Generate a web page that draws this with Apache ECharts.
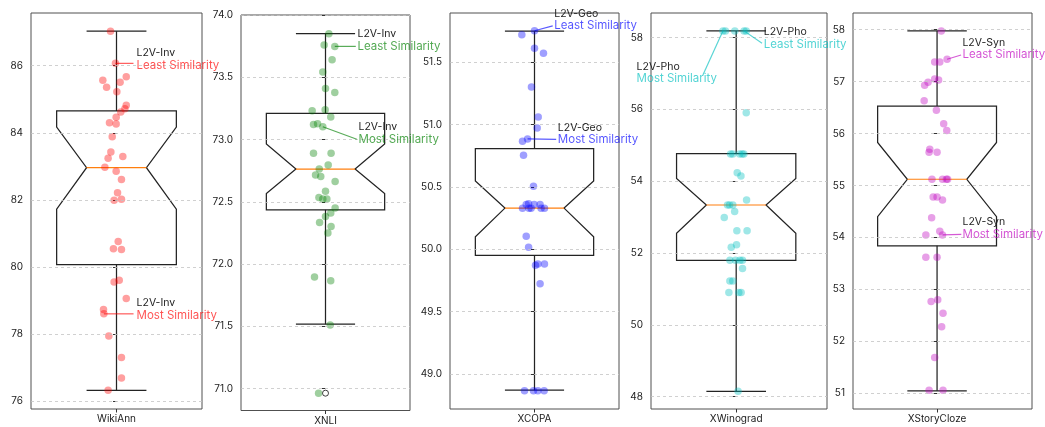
<!DOCTYPE html>
<html>
<head>
<meta charset="utf-8">
<script src="https://cdn.jsdelivr.net/npm/echarts@6/dist/echarts.min.js"></script>
<style>
  html, body { margin: 0; padding: 0; background: #fff; }
  #chart { width: 1045px; height: 427px; }
</style>
</head>
<body>
<div id="chart"></div>
<script>
// ---------------- data ----------------
const taskNames = ['WikiAnn', 'XNLI', 'XCOPA', 'XWinograd', 'XStoryCloze'];

// per-language scores, with the horizontal jitter each dot is drawn at
const wikiannScores = [87.03, 86.07, 85.67, 85.57, 85.51, 85.36, 85.22, 84.82, 84.72, 84.62, 84.46, 84.30,
  84.26, 83.88, 83.43, 83.29, 83.24, 82.97, 82.85, 82.61, 82.21, 82.02, 81.99, 80.76, 80.54, 80.52,
  79.60, 79.55, 79.06, 78.73, 78.60, 77.94, 77.30, 76.69, 76.32];
const wikiannJitter = [-0.035, -0.006, 0.057, -0.08, 0.021, -0.058, 0.002, 0.057, 0.049, 0.025, -0.002, -0.041,
  -0.002, -0.025, -0.033, 0.037, -0.049, -0.068, -0.002, 0.029, 0.006, 0.029, -0.014, 0.01, -0.018, 0.029,
  0.016, -0.014, 0.057, -0.076, -0.074, -0.045, 0.029, 0.029, -0.049];

const xnliScores = [73.85, 73.759, 73.748, 73.641, 73.542, 73.41, 73.378, 73.239, 73.231, 73.181, 73.127, 73.121,
  73.103, 72.89, 72.89, 72.795, 72.763, 72.715, 72.704, 72.664, 72.586, 72.535, 72.522, 72.522, 72.45, 72.41,
  72.382, 72.334, 72.302, 72.249, 71.896, 71.866, 71.512, 70.964];
const xnliJitter = [0.02, -0.008, 0.055, 0.039, -0.016, 0, 0.055, -0.002, -0.079, 0.031, -0.047, -0.071,
  -0.016, -0.071, 0.033, 0.016, -0.037, -0.059, -0.028, 0.057, 0, -0.039, -0.016, 0.008, 0.057, 0.031,
  0, -0.035, 0.033, 0.014, -0.065, 0.031, 0.028, -0.041];

const xcopaScores = [51.753, 51.721, 51.612, 51.572, 51.302, 51.061, 50.973, 50.885, 50.866, 50.754, 50.505,
  50.365, 50.36, 50.36, 50.36, 50.33, 50.33, 50.33, 50.33, 50.33, 50.104, 50.016, 49.882, 49.882, 49.872,
  49.724, 48.866, 48.866, 48.866, 48.866];
const xcopaJitter = [0, -0.075, 0, 0.053, -0.018, 0.022, 0.016, -0.041, -0.071, -0.065, -0.006,
  -0.035, -0.049, -0.002, 0.033, -0.071, -0.033, -0.02, 0.039, 0.059, -0.049, -0.035, 0.02, 0.059, 0.006,
  0.033, -0.059, -0.006, 0.02, 0.057];

const xwinogradScores = [58.19, 58.19, 58.19, 58.19, 58.19, 55.91, 54.76, 54.76, 54.76, 54.76, 54.76, 54.24,
  54.15, 53.48, 53.34, 53.34, 53.34, 53.16, 52.99, 52.62, 52.62, 52.23, 52.16, 51.80, 51.80, 51.80, 51.80,
  51.57, 51.22, 51.22, 50.90, 50.90, 50.90, 48.15];
const xwinogradJitter = [-0.078, -0.063, -0.008, 0.046, 0.059, 0.059, -0.033, -0.02, 0.02, 0.035, 0.045, 0.006,
  0.028, 0.061, -0.051, -0.039, -0.02, -0.009, -0.07, 0.004, 0.064, 0.002, -0.029, -0.037, -0.004, 0.022, 0.037,
  0.037, -0.037, -0.02, -0.043, 0.015, 0.029, 0.011];

const xstoryclozeScores = [57.975, 57.43, 57.38, 57.38, 57.05, 57.03, 56.99, 56.93, 56.63, 56.45, 56.19, 56.06,
  55.70, 55.64, 55.64, 55.12, 55.12, 55.12, 55.12, 54.78, 54.78, 54.72, 54.38, 54.12, 54.05, 54.05, 53.62,
  53.62, 52.80, 52.77, 52.54, 52.28, 51.69, 51.06, 51.06];
const xstoryclozeJitter = [0.025, 0.059, -0.014, 0.016, -0.014, 0.009, -0.053, -0.073, -0.076, -0.004, 0.039, 0.057,
  -0.043, -0.047, 0, -0.03, 0.032, 0.055, 0.062, -0.023, 0, 0.032, -0.032, 0.016, 0.032, -0.066, -0.066,
  0, 0.004, -0.035, 0.035, 0.027, -0.014, -0.047, 0.035];

// notched box statistics: [q1, notchLow, median, notchHigh, q3, whiskerLow, whiskerHigh]
const wikiannBox = [80.07, 81.72, 82.96, 84.17, 84.65, 76.32, 87.03];
const xnliBox = [72.436, 72.567, 72.763, 72.964, 73.21, 71.518, 73.85];
const xcopaBox = [49.952, 50.10, 50.33, 50.547, 50.807, 48.87, 51.75];
const xwinogradBox = [51.80, 52.55, 53.34, 54.08, 54.77, 48.15, 58.19];
const xstoryclozeBox = [53.84, 54.40, 55.12, 55.83, 56.53, 51.05, 57.975];

// points beyond the whiskers
const wikiannFliers = [];
const xnliFliers = [70.964];
const xcopaFliers = [];
const xwinogradFliers = [];
const xstoryclozeFliers = [];

// y-axis tick labels
const wikiannTicks = [76, 78, 80, 82, 84, 86];
const xnliTicks = [71.0, 71.5, 72.0, 72.5, 73.0, 73.5, 74.0];
const xcopaTicks = [49.0, 49.5, 50.0, 50.5, 51.0, 51.5];
const xwinogradTicks = [48, 50, 52, 54, 56, 58];
const xstoryclozeTicks = [51, 52, 53, 54, 55, 56, 57, 58];

// callouts: model name, which end it marks, index of the dot it points at
const wikiannNotes = [['L2V-Inv', 'Least Similarity', 1], ['L2V-Inv', 'Most Similarity', 30]];
const xnliNotes = [['L2V-Inv', 'Least Similarity', 2], ['L2V-Inv', 'Most Similarity', 12]];
const xcopaNotes = [['L2V-Geo', 'Least Similarity', 0], ['L2V-Geo', 'Most Similarity', 7]];
const xwinogradNotes = [['L2V-Pho', 'Least Similarity', 3], ['L2V-Pho', 'Most Similarity', 0]];
const xstoryclozeNotes = [['L2V-Syn', 'Least Similarity', 1], ['L2V-Syn', 'Most Similarity', 24]];

// ---------------- layout & style ----------------
const FONT = 'Inter, "Liberation Sans", sans-serif';
const panels = [
  { scores: wikiannScores, jitter: wikiannJitter, box: wikiannBox, fliers: wikiannFliers, ticks: wikiannTicks, notes: wikiannNotes,
    grid: [31, 13, 171, 396], xRange: [-0.5, 0.5], range: [75.762, 87.572], dec: 0, color: [255, 0, 0],
    // pixel offsets from the dot: [lineEndX, lineEndY, textX, textY]
    callouts: [[18, 0, 21, 2], [29.7, 0, 32.7, 2]] },
  { scores: xnliScores, jitter: xnliJitter, box: xnliBox, fliers: xnliFliers, ticks: xnliTicks, notes: xnliNotes,
    grid: [241, 15, 169, 395.5], xRange: [-0.5, 0.5], range: [70.825, 74.0], dec: 1, color: [0, 128, 0],
    callouts: [[21, 0, 22.7, 0], [34, 12.5, 35.7, 13]] },
  { scores: xcopaScores, jitter: xcopaJitter, box: xcopaBox, fliers: xcopaFliers, ticks: xcopaTicks, notes: xcopaNotes,
    grid: [450, 13, 169, 396], xRange: [-0.5, 0.5], range: [48.719, 51.895], dec: 1, color: [0, 0, 255],
    callouts: [[18.2, -4.8, 19.7, -4.8], [28.6, 0.5, 30.3, 1]] },
  { scores: xwinogradScores, jitter: xwinogradJitter, box: xwinogradBox, fliers: xwinogradFliers, ticks: xwinogradTicks, notes: xwinogradNotes,
    grid: [651, 13, 176, 396], xRange: [-0.5, 0.533], range: [47.657, 58.688], dec: 0, color: [0, 191, 191],
    callouts: [[18, 12.3, 19.7, 13.3], [-20, 44, -86.3, 48]] },
  { scores: xstoryclozeScores, jitter: xstoryclozeJitter, box: xstoryclozeBox, fliers: xstoryclozeFliers, ticks: xstoryclozeTicks, notes: xstoryclozeNotes,
    grid: [853, 13, 179, 396], xRange: [-0.495, 0.559], range: [50.699, 58.321], dec: 0, color: [191, 0, 191],
    callouts: [[14, -4.3, 15.3, -4.3], [18.8, -0.6, 20, -0.6]] }
];

const BOX_HALF = 0.35;   // half box width (x units)
const NOTCH_HALF = 0.175; // half width at the notch waist, also the caps
const rgba = (c, a) => `rgba(${c[0]},${c[1]},${c[2]},${a})`;

const grids = [], xAxes = [], yAxes = [], series = [];

panels.forEach((p, i) => {
  grids.push({
    left: p.grid[0], top: p.grid[1], width: p.grid[2], height: p.grid[3],
    show: true, borderColor: '#505050', borderWidth: 1, backgroundColor: 'transparent'
  });
  xAxes.push({
    type: 'value', gridIndex: i, min: p.xRange[0], max: p.xRange[1],
    axisLine: { show: false }, splitLine: { show: false },
    axisTick: { show: true, customValues: [0], length: 3.5, lineStyle: { color: '#333', width: 1 } },
    axisLabel: { customValues: [0], formatter: () => taskNames[i], margin: 5, fontSize: 10, color: '#222', fontFamily: FONT }
  });
  yAxes.push({
    type: 'value', gridIndex: i, min: p.range[0], max: p.range[1],
    axisLine: { show: false }, splitLine: { show: false },
    axisTick: { show: true, customValues: p.ticks, length: 3.5, lineStyle: { color: '#333', width: 1 } },
    axisLabel: { customValues: p.ticks, formatter: v => Number(v).toFixed(p.dec), margin: 8, fontSize: 10, color: '#222', fontFamily: FONT }
  });

  // notched box, whiskers, caps and median; gridlines ride along as markLine
  const b = p.box;
  series.push({
    type: 'custom', xAxisIndex: i, yAxisIndex: i, z: 2, clip: false, silent: true, animation: false,
    data: [[0, b[2]]],
    renderItem: (params, api) => {
      const c = (x, y) => api.coord([x, y]);
      const [q1, nLo, med, nHi, q3, wLo, wHi] = b;
      const outline = [
        c(-BOX_HALF, q1), c(BOX_HALF, q1), c(BOX_HALF, nLo), c(NOTCH_HALF, med), c(BOX_HALF, nHi),
        c(BOX_HALF, q3), c(-BOX_HALF, q3), c(-BOX_HALF, nHi), c(-NOTCH_HALF, med), c(-BOX_HALF, nLo)
      ];
      const stroke = { stroke: '#232323', lineWidth: 1.25, fill: null };
      const seg = (a, z) => ({ type: 'line', shape: { x1: a[0], y1: a[1], x2: z[0], y2: z[1] }, style: stroke });
      return {
        type: 'group',
        children: [
          { type: 'polygon', shape: { points: outline }, style: stroke },
          seg(c(0, q3), c(0, wHi)),
          seg(c(0, q1), c(0, wLo)),
          seg(c(-NOTCH_HALF, wHi), c(NOTCH_HALF, wHi)),
          seg(c(-NOTCH_HALF, wLo), c(NOTCH_HALF, wLo)),
          { type: 'line', shape: { x1: c(-NOTCH_HALF, med)[0], y1: c(0, med)[1], x2: c(NOTCH_HALF, med)[0], y2: c(0, med)[1] },
            style: { stroke: '#ff7f0e', lineWidth: 1.1 } }
        ]
      };
    },
    markLine: {
      silent: true, symbol: 'none', animation: false,
      label: { show: false },
      lineStyle: { type: [3, 3], color: '#c4c4c4', width: 0.8 },
      data: p.ticks.map(v => ({ yAxis: v }))
    }
  });

  // jittered dots
  series.push({
    type: 'scatter', xAxisIndex: i, yAxisIndex: i, z: 3, silent: true, animation: false,
    symbolSize: 7.5,
    itemStyle: { color: rgba(p.color, 0.47) },
    data: p.scores.map((v, k) => [p.jitter[k], v])
  });

  // outliers as open circles at the box centre
  if (p.fliers.length) {
    series.push({
      type: 'scatter', xAxisIndex: i, yAxisIndex: i, z: 4, silent: true, animation: false,
      symbol: 'circle', symbolSize: 6,
      itemStyle: { color: 'rgba(255,255,255,0)', borderColor: '#111', borderWidth: 1 },
      data: p.fliers.map(v => [0, v])
    });
  }

  // callouts
  series.push({
    type: 'custom', xAxisIndex: i, yAxisIndex: i, z: 5, clip: false, silent: true, animation: false,
    data: p.notes.map(n => [p.jitter[n[2]], p.scores[n[2]]]),
    renderItem: (params, api) => {
      const k = params.dataIndex;
      const note = p.notes[k];
      const off = p.callouts[k];
      const pt = api.coord([api.value(0), api.value(1)]);
      const tx = pt[0] + off[2], ty = pt[1] + off[3];
      return {
        type: 'group',
        children: [
          { type: 'line', shape: { x1: pt[0], y1: pt[1], x2: pt[0] + off[0], y2: pt[1] + off[1] },
            style: { stroke: rgba(p.color, 0.65), lineWidth: 1.2 } },
          { type: 'text', x: tx, y: ty - 12.5,
            style: { text: note[0], fill: '#1e1e1e', fontSize: 10.5, fontFamily: FONT, align: 'left', verticalAlign: 'middle' } },
          { type: 'text', x: tx, y: ty,
            style: { text: note[1], fill: rgba(p.color, 0.68), fontSize: 11.5, fontFamily: FONT, align: 'left', verticalAlign: 'middle' } }
        ]
      };
    }
  });
});

const chart = echarts.init(document.getElementById('chart'), null, { renderer: 'canvas' });
chart.setOption({
  backgroundColor: '#fff',
  animation: false,
  grid: grids,
  xAxis: xAxes,
  yAxis: yAxes,
  series: series
});
</script>
</body>
</html>
